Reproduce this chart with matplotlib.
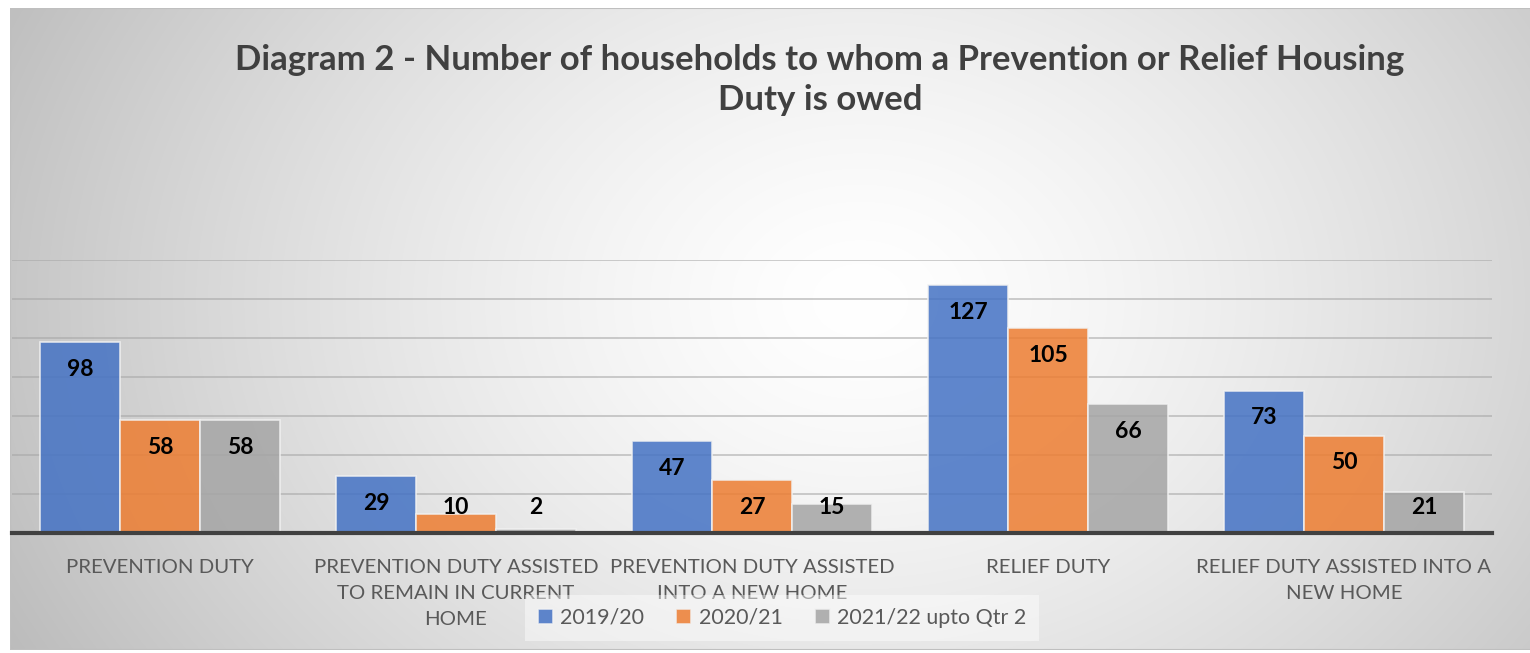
import numpy as np
import matplotlib.pyplot as plt
from matplotlib.patches import Rectangle

categories = ["PREVENTION DUTY",
              "PREVENTION DUTY ASSISTED\nTO REMAIN IN CURRENT\nHOME",
              "PREVENTION DUTY ASSISTED\nINTO A NEW HOME",
              "RELIEF DUTY",
              "RELIEF DUTY ASSISTED INTO A\nNEW HOME"]
series_names = ["2019/20", "2020/21", "2021/22 upto Qtr 2"]
v_2019 = [98, 29, 47, 127, 73]
v_2020 = [58, 10, 27, 105, 50]
v_2021 = [58, 2, 15, 66, 21]
colors = ["#4472C4", "#ED7D31", "#A5A5A5"]

plt.rcParams['font.family'] = ['Lato', 'DejaVu Sans']

W, H = 1530, 653
fig = plt.figure(figsize=(W / 100, H / 100), dpi=100)
fig.patch.set_facecolor("white")

# radial gradient background of the chart area
x0, y0, x1, y1 = 10, 8, 1535, 650
bg = fig.add_axes([x0 / W, 1 - y1 / H, (x1 - x0) / W, (y1 - y0) / H], zorder=0)
gx, gy = np.meshgrid(np.arange(x0, x1), np.arange(y0, y1))
d = np.sqrt((gx - 860) ** 2 + ((gy - 300) * 1.3) ** 2) / 900
shade = 1 - 0.24 * np.clip(d, 0, 1.2) ** 1.4
bg.imshow(np.dstack([shade] * 3), aspect="auto", extent=[0, 1, 0, 1], interpolation="bilinear")
bg.set_xlim(0, 1)
bg.set_ylim(0, 1)
bg.axis("off")
bg.add_patch(Rectangle((0, 0), 1, 1, transform=bg.transAxes, fill=False,
                       edgecolor="#bfbfbf", linewidth=1.5))

# plot area
left, right, top, bottom = 12, 1492, 260, 533
ax = fig.add_axes([left / W, 1 - bottom / H, (right - left) / W, (bottom - top) / H], zorder=1)
ax.patch.set_alpha(0)

x = np.arange(len(categories))
bw = 0.27
for i, (vals, c, name) in enumerate(zip([v_2019, v_2020, v_2021], colors, series_names)):
    pos = x + (i - 1) * bw
    ax.bar(pos, vals, width=bw, color=c, alpha=0.85, edgecolor="#f2f2f2",
           linewidth=1.2, label=name, zorder=2)
    for px, v in zip(pos, vals):
        ax.text(px, max(v - 14, 13), str(v), ha="center", va="center",
                fontsize=16.5, fontweight="bold", color="black", zorder=3)

ax.set_xlim(-0.5, len(categories) - 0.5)
ax.set_ylim(0, 140)
ax.set_yticks(np.arange(20, 141, 20))
ax.yaxis.grid(True, color="#a6a6a6", linewidth=1.3, alpha=0.6, zorder=1)
ax.set_axisbelow(True)
ax.tick_params(axis="y", left=False, labelleft=False)
ax.tick_params(axis="x", length=0, pad=19, labelsize=14.7, labelcolor="#595959")
ax.set_xticks(x)
ax.set_xticklabels(categories, linespacing=1.62)
for s in ["top", "right", "left"]:
    ax.spines[s].set_visible(False)
ax.spines["bottom"].set_color("#404040")
ax.spines["bottom"].set_linewidth(3)
ax.spines["bottom"].set_zorder(4)

fig.text(820 / W, 1 - 80 / H,
         "Diagram 2 - Number of households to whom a Prevention or Relief Housing\nDuty is owed",
         ha="center", va="center", fontsize=25, fontweight="bold", color="#404040",
         linespacing=1.3)

leg = fig.legend(loc="center", bbox_to_anchor=(782 / W, 1 - 618 / H), ncol=3,
                 fontsize=15.4, frameon=True, handlelength=0.7, handleheight=0.7,
                 handletextpad=0.35, columnspacing=1.5, borderpad=0.6)
leg.get_frame().set_facecolor("white")
leg.get_frame().set_alpha(0.45)
leg.get_frame().set_edgecolor("none")
leg.get_frame().set_boxstyle("square", pad=0)
leg.set_zorder(5)
for t in leg.get_texts():
    t.set_color("#595959")

fig.savefig("out.png", dpi=100)
